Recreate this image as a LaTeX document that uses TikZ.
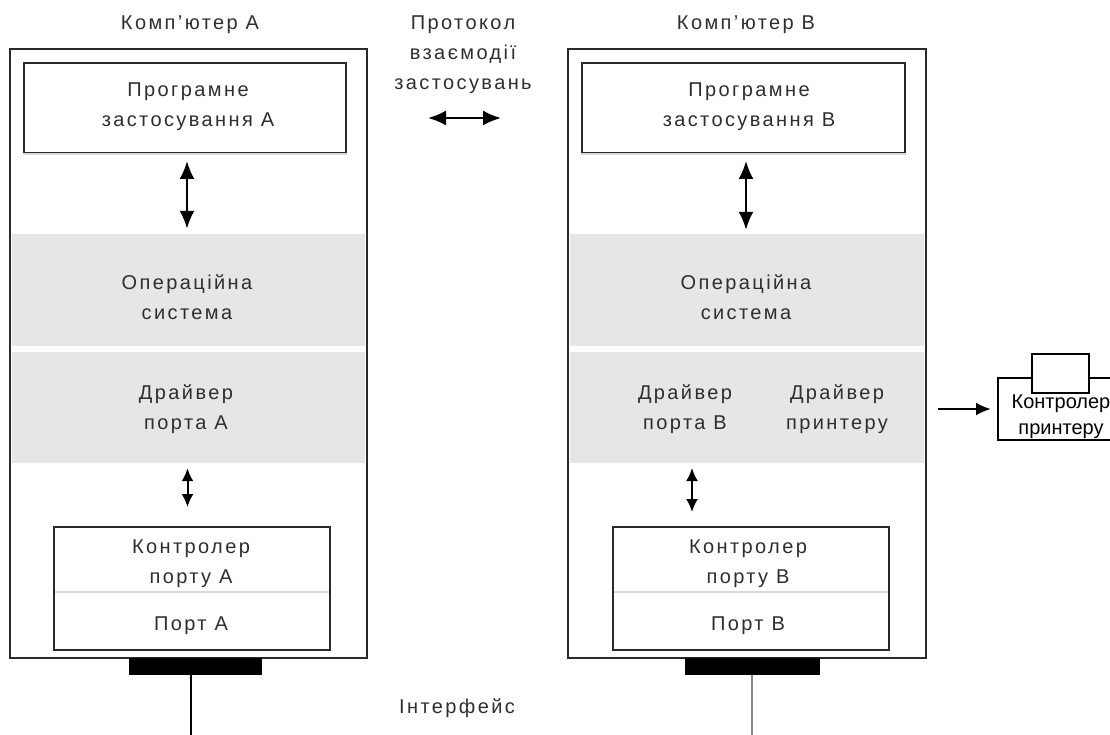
\documentclass[tikz,border=0pt]{standalone}
\usepackage{fontspec}
\setmainfont{Liberation Sans}[LetterSpace=12]
\usetikzlibrary{arrows.meta}

\definecolor{frameink}{HTML}{2A2A2A}
\definecolor{bandfill}{HTML}{E6E6E8}
\definecolor{textink}{HTML}{2E2E2E}
\definecolor{ruleink}{HTML}{DADADA}
\definecolor{wiregray}{HTML}{8A8A8A}

\tikzset{
  frame/.style={draw=frameink, line width=2pt, fill=white, inner sep=0pt},
  plate/.style={fill=bandfill, draw=none, inner sep=0pt},
  txt/.style={align=center, inner sep=0pt, text=textink},
  dblarrow/.style={{Latex[length=18pt,width=15pt]}-{Latex[length=18pt,width=15pt]}, line width=2.2pt, draw=black},
  shortarrow/.style={{Latex[length=13pt,width=12pt]}-{Latex[length=13pt,width=12pt]}, line width=2pt, draw=black},
  onearrow/.style={-{Latex[length=15pt,width=13pt]}, line width=2.4pt, draw=black},
  divider/.style={draw=ruleink, line width=2pt},
  plug/.style={fill=black, draw=none, inner sep=0pt},
}

\begin{document}
\begin{tikzpicture}[x=1pt, y=-1pt, font=\fontsize{20}{30}\selectfont]
  \useasboundingbox (0,0) rectangle (1110,735);

  % ---------- computer A ----------
  \node[frame, minimum width=357pt, minimum height=609pt] (compA) at (188.5,353.5) {};
  \node[plate, minimum width=353pt, minimum height=112pt] (osA)  at (188.5,290) {};
  \node[plate, minimum width=353pt, minimum height=111pt] (drvA) at (188.5,407.5) {};
  \node[frame, minimum width=322pt, minimum height=90pt] (appA) at (185,108) {};
  \draw[divider] (appA.south west) -- (appA.south east);
  \node[frame, minimum width=276pt, minimum height=123pt] (unitA) at (192,588.5) {};
  \node[inner sep=0pt, minimum width=276pt, minimum height=65pt] (ctlA) at (192,559.5) {};
  \draw[divider] ([xshift=1pt]ctlA.south west) -- ([xshift=-1pt]ctlA.south east);
  \node[plug, minimum width=133pt, minimum height=17pt] (plugA) at (195.5,666.5) {};

  \node[txt] (titleA) at (190,25) {Комп'ютер А};
  \node[txt] (appAtxt) at (188,107) {Програмне\\застосування А};
  \node[txt] (osAtxt)  at (187,297) {Операційна\\система};
  \node[txt] (drvAtxt) at (186,409) {Драйвер\\порта А};
  \node[txt] (ctlAtxt) at (191,564) {Контролер\\порту А};
  \node[txt] (portAtxt) at (191,626) {Порт А};

  \draw[dblarrow, shorten <=7pt, shorten >=5pt] ([xshift=2pt]appA.south) -- ([xshift=2pt]appA.south |- osA.north);
  \draw[shortarrow, shorten <=5pt, shorten >=19pt] ([xshift=-1pt]drvA.south) -- ([xshift=-1pt]drvA.south |- unitA.north);

  \coordinate (endA) at (191,735);
  \draw[line width=2pt, draw=black] (endA |- plugA.south) -- (endA);

  % ---------- computer B ----------
  \node[frame, minimum width=358pt, minimum height=609pt] (compB) at (747,353.5) {};
  \node[plate, minimum width=354pt, minimum height=112pt] (osB)  at (747,290) {};
  \node[plate, minimum width=354pt, minimum height=111pt] (drvB) at (747,407.5) {};
  \node[frame, minimum width=323pt, minimum height=90pt] (appB) at (743.5,108) {};
  \draw[divider] (appB.south west) -- (appB.south east);
  \node[frame, minimum width=276pt, minimum height=123pt] (unitB) at (751,588.5) {};
  \node[inner sep=0pt, minimum width=276pt, minimum height=65pt] (ctlB) at (751,559.5) {};
  \draw[divider] ([xshift=1pt]ctlB.south west) -- ([xshift=-1pt]ctlB.south east);
  \node[plug, minimum width=135pt, minimum height=17pt] (plugB) at (752.5,666.5) {};

  \node[txt] (titleB) at (746,25) {Комп'ютер В};
  \node[txt] (appBtxt) at (749,107) {Програмне\\застосування В};
  \node[txt] (osBtxt)  at (746,297) {Операційна\\система};
  \node[txt] (drvBtxt) at (685,409) {Драйвер\\порта В};
  \node[txt] (prnBtxt) at (837,409) {Драйвер\\принтеру};
  \node[txt] (ctlBtxt) at (748,564) {Контролер\\порту В};
  \node[txt] (portBtxt) at (748,626) {Порт В};

  \draw[dblarrow, shorten <=7pt, shorten >=4pt] ([xshift=2.5pt]appB.south) -- ([xshift=2.5pt]appB.south |- osB.north);
  \coordinate (linkB) at (692,463);
  \draw[shortarrow, shorten <=5pt, shorten >=14pt] (linkB) -- (linkB |- unitB.north);

  \coordinate (endB) at (752,735);
  \draw[line width=1.4pt, draw=wiregray] (endB |- plugB.south) -- (endB);

  % ---------- protocol between the applications ----------
  \node[txt] (proto) at (463,55) {Протокол\\взаємодії\\застосувань};
  \coordinate (protoL) at (428,118);
  \coordinate (protoR) at (501,118);
  \draw[dblarrow] (protoL) -- (protoR);

  % ---------- interface ----------
  \node[txt] (iface) at (457,708) {Інтерфейс};

  % ---------- printer controller (runs off the right edge) ----------
  \node[draw=black, line width=2pt, fill=white, inner sep=0pt, minimum width=132pt, minimum height=62pt] (prn) at (1064,409) {};
  \node[draw=black, line width=2pt, fill=white, inner sep=0pt, minimum width=57pt, minimum height=39pt] (prnTop) at (1060.5,373.5) {};
  \node[txt, text=black, font=\fontsize{20}{26}\selectfont\addfontfeatures{LetterSpace=0}] (prnTxt) at (1061,417) {Контролер\\принтеру};
  \draw[onearrow, shorten <=11pt, shorten >=6pt] (compB.east |- prn.west) -- (prn.west);
\end{tikzpicture}
\end{document}
